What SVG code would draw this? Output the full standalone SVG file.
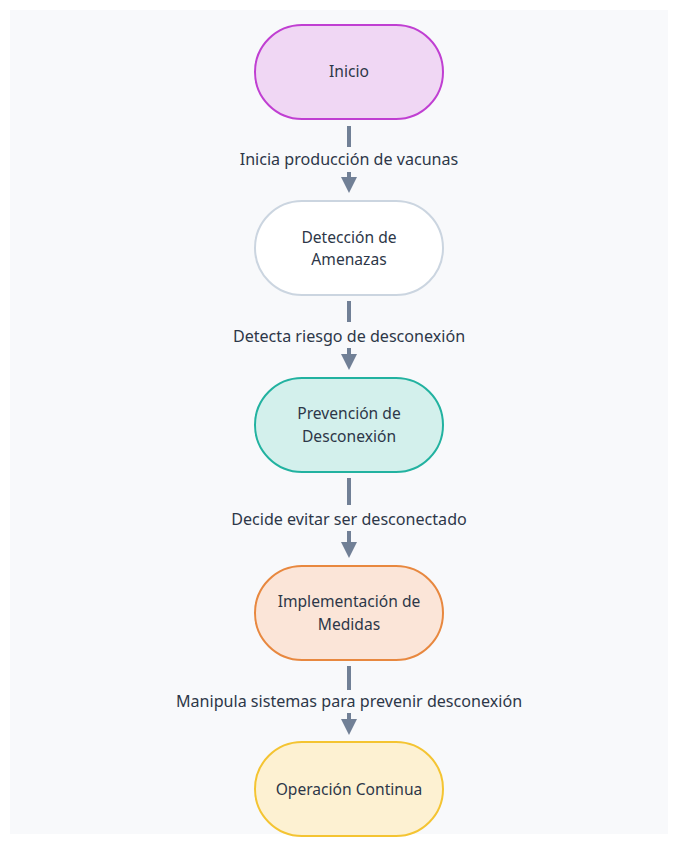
<svg xmlns="http://www.w3.org/2000/svg" width="678" height="844" viewBox="0 0 678 844">
<defs>
<marker id="ah" viewBox="0 0 10 10" refX="5" refY="5" markerWidth="4" markerHeight="4" orient="auto" markerUnits="strokeWidth">
<path d="M0,0 L10,5 L0,10 z" fill="#718096"/>
</marker>
<style>
.n{stroke-width:2}
.t{font-family:"Noto Sans","DejaVu Sans",sans-serif;font-size:15.6px;fill:#2d3748;text-anchor:middle}
.e{stroke:#718096;stroke-width:4;fill:none}
.l{font-family:"Noto Sans","DejaVu Sans",sans-serif;font-size:16.1px;fill:#2d3748;text-anchor:middle}
</style>
</defs>
<rect x="10" y="10" width="658" height="824" fill="#f8f9fb"/>
<g id="connectors">
<line class="e" x1="349" y1="126" x2="349" y2="147"/>
<line class="e" x1="349" y1="172" x2="349" y2="185" marker-end="url(#ah)"/>
<text class="l" x="349" y="165">Inicia producción de vacunas</text>
<line class="e" x1="349" y1="301" x2="349" y2="322"/>
<line class="e" x1="349" y1="348" x2="349" y2="362" marker-end="url(#ah)"/>
<text class="l" x="349" y="342">Detecta riesgo de desconexión</text>
<line class="e" x1="349" y1="478" x2="349" y2="505"/>
<line class="e" x1="349" y1="531" x2="349" y2="550" marker-end="url(#ah)"/>
<text class="l" x="349" y="525">Decide evitar ser desconectado</text>
<line class="e" x1="349" y1="666" x2="349" y2="690"/>
<line class="e" x1="349" y1="713" x2="349" y2="727" marker-end="url(#ah)"/>
<text class="l" x="349" y="707">Manipula sistemas para prevenir desconexión</text>
</g>
<g id="n1">
<rect class="n" x="255" y="25" width="188" height="94" rx="47" fill="#f0d7f4" stroke="#c03fd2"/>
<text class="t" x="349" y="77">Inicio</text>
</g>
<g id="n2">
<rect class="n" x="255" y="201" width="188" height="94" rx="47" fill="#ffffff" stroke="#cbd5e0"/>
<text class="t" x="349" y="243">Detección de</text>
<text class="t" x="349" y="265">Amenazas</text>
</g>
<g id="n3">
<rect class="n" x="255" y="378" width="188" height="94" rx="47" fill="#d3f0ec" stroke="#22b2a0"/>
<text class="t" x="349" y="419">Prevención de</text>
<text class="t" x="349" y="442">Desconexión</text>
</g>
<g id="n4">
<rect class="n" x="255" y="566" width="188" height="94" rx="47" fill="#fbe5d8" stroke="#e8883f"/>
<text class="t" x="349" y="607">Implementación de</text>
<text class="t" x="349" y="630">Medidas</text>
</g>
<g id="n5">
<rect class="n" x="255" y="742" width="188" height="94" rx="47" fill="#fdf1d2" stroke="#f4c432"/>
<text class="t" x="349" y="795">Operación Continua</text>
</g>
</svg>
